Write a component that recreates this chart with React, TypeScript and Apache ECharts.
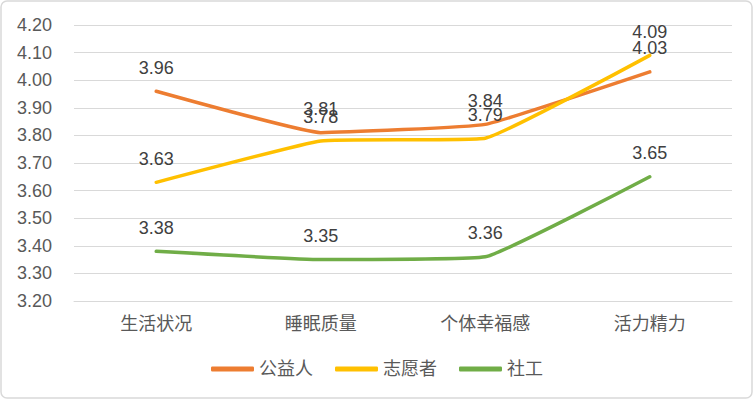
import React, { useEffect, useRef } from "react";
import * as echarts from "echarts";

const categories = ["生活状况", "睡眠质量", "个体幸福感", "活力精力"];
const seriesNames = ["公益人", "志愿者", "社工"];
const gongyiren = [3.96, 3.81, 3.84, 4.03];
const zhiyuanzhe = [3.63, 3.78, 3.79, 4.09];
const shegong = [3.38, 3.35, 3.36, 3.65];
const colors = ["#ED7D31", "#FFC000", "#70AD47"];

const FONT = "'Liberation Sans', Arial, 'Noto Sans CJK SC', sans-serif";

export default function App() {
  const ref = useRef<HTMLDivElement>(null);
  useEffect(() => {
    document.body.style.margin = "0";
    if (!ref.current) return;
    const chart = echarts.init(ref.current, undefined, { renderer: "svg" });
    const data = [gongyiren, zhiyuanzhe, shegong];
    chart.setOption({
      animation: false,
      textStyle: { fontFamily: FONT },
      graphic: [
        {
          type: "rect",
          shape: { x: 1, y: 1, width: 751, height: 397, r: 6 },
          style: { fill: "none", stroke: "#d9d9d9", lineWidth: 1.5 },
          silent: true,
        },
      ],
      grid: { left: 74, right: 22, top: 25, bottom: 99 },
      xAxis: {
        type: "category",
        data: categories,
        boundaryGap: true,
        axisLine: { show: true, lineStyle: { color: "#d9d9d9", width: 1 } },
        axisTick: { show: false },
        axisLabel: { color: "#595959", fontSize: 18, margin: 14, fontFamily: FONT },
      },
      yAxis: {
        type: "value",
        min: 3.2,
        max: 4.2,
        interval: 0.1,
        axisLine: { show: false },
        axisTick: { show: false },
        splitLine: { lineStyle: { color: "#d9d9d9", width: 1.2 } },
        axisLabel: {
          color: "#595959",
          fontSize: 18,
          margin: 22,
          fontFamily: FONT,
          formatter: (v: number) => v.toFixed(2),
        },
      },
      legend: {
        data: seriesNames.map((n, i) => ({
          name: n,
          icon: "roundRect",
          itemStyle: { color: colors[i], opacity: 1 },
        })),
        bottom: 17,
        left: "center",
        itemWidth: 43,
        itemHeight: 5,
        itemGap: 22,
        textStyle: { color: "#595959", fontSize: 18, fontFamily: FONT },
      },
      series: seriesNames.map((name, i) => ({
        name,
        type: "line",
        data: data[i],
        smooth: 0.1,
        symbol: "circle",
        symbolSize: 1,
        showSymbol: true,
        color: colors[i],
        itemStyle: { color: colors[i], opacity: 0 },
        lineStyle: { width: 3.5, color: colors[i], cap: "round", join: "round" },
        label: {
          show: true,
          position: "top",
          distance: 14,
          color: "#404040",
          opacity: 1,
          fontSize: 18,
          fontFamily: FONT,
          formatter: (p: any) => Number(p.value).toFixed(2),
        },
        labelLayout: { hideOverlap: false },
      })),
    });
    return () => chart.dispose();
  }, []);
  return <div ref={ref} style={{ width: 754, height: 400 }} />;
}
